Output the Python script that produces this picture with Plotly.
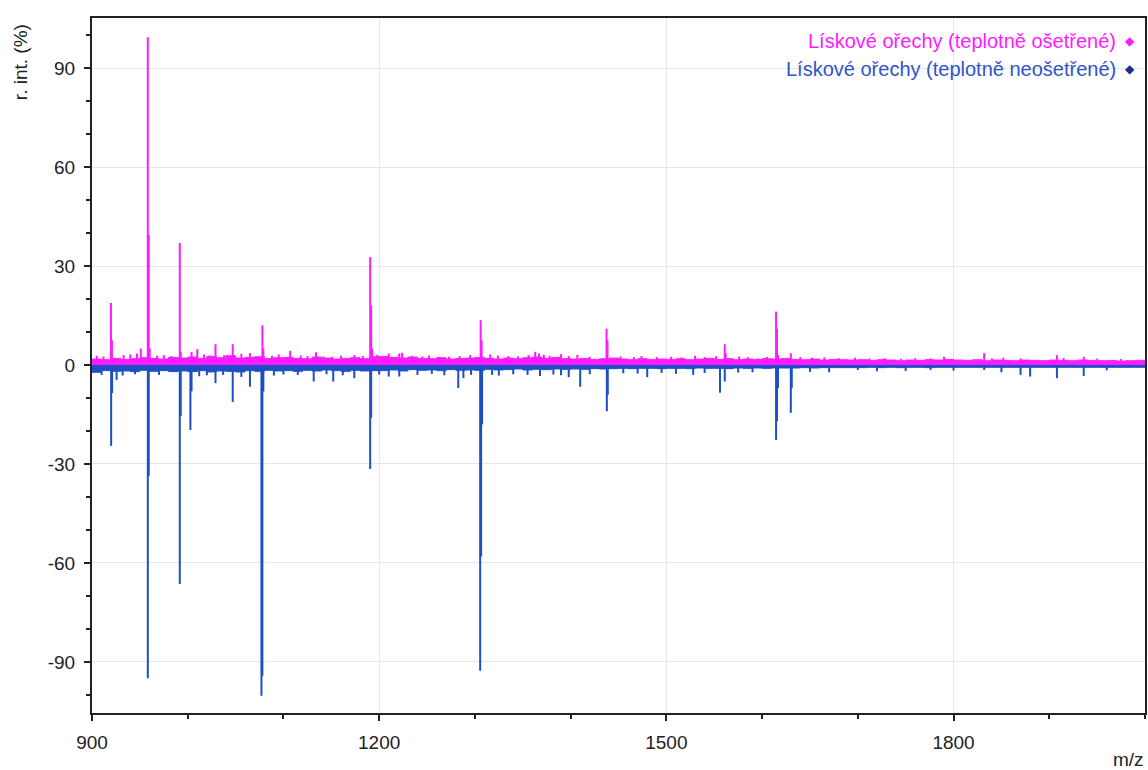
import plotly.graph_objects as go

# ---------------- data ----------------
SERIES_TREATED = "Lískové ořechy (teplotně ošetřené)"
SERIES_UNTREATED = "Lískové ořechy (teplotně neošetřené)"

X_TICKS = [900, 1200, 1500, 1800]
Y_TICKS = [-90, -60, -30, 0, 30, 60, 90]

# baseline noise level (m/z grid every 10)
NOISE_MZ = list(range(900, 2001, 10))
treated_noise = [
    1.8, 1.6, 2.0, 1.7, 1.9, 2.2, 2.0, 1.8, 2.3, 2.1,
    2.4, 2.0, 2.6, 2.2, 2.8, 2.1, 2.3, 2.5, 2.0, 2.2,
    2.3, 2.0, 1.9, 2.4, 2.1, 1.8, 2.0, 2.2, 1.9, 2.5,
    2.6, 2.3, 2.1, 2.4, 2.0, 1.9, 2.2, 1.8, 2.0, 2.1,
    2.3, 2.0, 1.8, 2.1, 1.9, 2.2, 2.4, 2.0, 2.3, 1.9,
    1.8, 2.0, 1.7, 1.9, 2.1, 1.8, 1.6, 1.9, 1.7, 1.8,
    1.7, 1.9, 1.6, 1.8, 2.0, 1.7, 1.9, 1.6, 1.8, 1.7,
    1.9, 1.8, 2.0, 1.7, 1.6, 1.8, 1.5, 1.7, 1.6, 1.5,
    1.6, 1.4, 1.6, 1.5, 1.3, 1.5, 1.4, 1.6, 1.5, 1.7,
    1.5, 1.4, 1.6, 1.3, 1.5, 1.4, 1.3, 1.5, 1.4, 1.3,
    1.5, 1.4, 1.3, 1.5, 1.4, 1.3, 1.4, 1.2, 1.3, 1.4, 1.3,
]
untreated_noise = [
    -2.2, -1.7, -1.9, -1.8, -2.0, -1.6, -1.9, -1.7, -2.0, -1.8,
    -2.0, -1.7, -2.1, -1.8, -1.9, -2.1, -1.7, -1.9, -1.6, -1.8,
    -1.7, -1.9, -1.6, -1.8, -1.5, -1.7, -1.9, -1.6, -1.8, -1.7,
    -1.7, -1.5, -1.8, -1.4, -1.6, -1.5, -1.7, -1.4, -1.6, -1.5,
    -1.6, -1.3, -1.5, -1.4, -1.2, -1.5, -1.3, -1.4, -1.2, -1.3,
    -1.2, -1.3, -1.1, -1.2, -1.1, -1.0, -1.1, -1.0, -1.0, -1.1,
    -1.0, -1.0, -1.1, -0.9, -1.0, -1.0, -1.1, -0.9, -1.0, -0.9,
    -1.0, -0.9, -0.9, -0.9, -0.8, -0.9, -0.8, -0.8, -0.8, -0.8,
    -0.8, -0.7, -0.8, -0.7, -0.8, -0.7, -0.7, -0.8, -0.7, -0.7,
    -0.7, -0.7, -0.7, -0.7, -0.7, -0.7, -0.7, -0.7, -0.7, -0.7,
    -0.7, -0.7, -0.7, -0.7, -0.7, -0.7, -0.7, -0.7, -0.7, -0.7, -0.7,
]

# peaks (m/z, relative intensity %)
treated_mz = [
    905, 912, 919.8, 920.8, 933, 940, 947, 951, 958.3, 959.3, 960.3, 968, 975, 983,
    991.7, 992.7, 1004, 1010, 1017, 1023, 1029, 1038, 1047, 1048, 1056, 1065, 1069,
    1078, 1079, 1088, 1095, 1107, 1118, 1125, 1134, 1142, 1151, 1160, 1174, 1183,
    1190.6, 1191.6, 1192.6, 1198, 1210, 1221, 1224, 1234, 1245, 1252, 1262, 1273,
    1284, 1295, 1306, 1307, 1316, 1324, 1335, 1345, 1356, 1363, 1367, 1372, 1378,
    1390, 1398, 1407, 1420, 1437.5, 1438.5, 1452, 1466, 1474, 1490, 1505, 1516,
    1530, 1540, 1546, 1552, 1561, 1562, 1576, 1585, 1596, 1605, 1614.6, 1615.6,
    1616.6, 1630, 1640, 1652, 1665, 1680, 1697, 1712, 1728, 1745, 1760, 1776, 1790,
    1832, 1840, 1852, 1870, 1908, 1915, 1936, 1950, 1975,
]
treated_int = [
    2.8, 2.6, 18.8, 7.5, 3.0, 3.2, 3.5, 5.0, 99.4, 39.4, 5.0, 2.8, 3.0, 2.7,
    37.0, 4.0, 4.0, 4.8, 3.2, 2.9, 6.3, 3.0, 6.3, 3.0, 3.4, 3.6, 2.5,
    12.0, 5.0, 2.8, 3.2, 4.3, 2.9, 2.7, 3.9, 2.6, 2.5, 2.8, 3.0, 2.7,
    32.7, 18.0, 5.0, 3.1, 3.5, 3.5, 3.7, 2.8, 2.6, 2.9, 2.5, 2.5,
    2.7, 3.0, 13.6, 7.5, 3.2, 2.9, 2.7, 2.6, 3.0, 4.0, 3.5, 3.1, 2.8,
    3.3, 2.7, 3.1, 2.5, 11.0, 7.5, 2.6, 2.4, 2.7, 2.4, 2.5, 2.3,
    2.8, 2.4, 2.0, 2.7, 6.3, 3.5, 2.6, 2.4, 2.0, 2.5, 16.2, 11.0,
    3.0, 3.6, 2.4, 2.2, 2.3, 2.1, 2.2, 2.0, 2.1, 1.9, 2.1, 2.0, 2.5,
    3.6, 2.0, 2.2, 2.0, 3.0, 2.1, 2.5, 1.9, 1.8,
]

untreated_mz = [
    910, 920, 921, 925.7, 932, 945, 958.3, 959.3, 970, 991.7, 992.7, 1002.8, 1004,
    1012, 1020, 1029, 1037, 1047, 1056, 1065, 1077, 1078, 1079, 1090, 1100, 1115,
    1131.6, 1145, 1152, 1162, 1174, 1190.6, 1191.6, 1200, 1210, 1221, 1240, 1255,
    1268, 1282.6, 1288, 1296, 1305.5, 1306.5, 1307.5, 1318, 1325, 1340, 1355, 1368,
    1382, 1390, 1398, 1410, 1420, 1437.8, 1438.8, 1455, 1470, 1480, 1495, 1510,
    1528, 1540, 1556, 1561, 1575, 1590, 1614.6, 1615.6, 1616.6, 1630, 1631, 1650,
    1670, 1700, 1720, 1750, 1776, 1800, 1832, 1850, 1870, 1880, 1908, 1936, 1960,
]
untreated_int = [
    -3.0, -24.5, -8.5, -4.5, -3.2, -2.8, -95.0, -33.6, -3.0, -66.4, -15.5, -19.7, -8.0,
    -3.4, -3.1, -5.5, -3.0, -11.2, -3.6, -6.6, -100.3, -94.2, -8.0, -3.2, -2.9, -3.0,
    -5.0, -2.8, -5.0, -3.1, -4.0, -31.5, -16.0, -2.9, -3.5, -3.5, -3.0, -2.7,
    -3.1, -7.0, -4.0, -3.0, -92.7, -58.0, -18.0, -3.0, -3.2, -2.8, -3.0, -3.3,
    -2.9, -3.1, -3.7, -6.6, -2.8, -14.0, -9.0, -2.5, -2.6, -3.7, -2.4, -2.7,
    -3.0, -2.4, -8.4, -5.0, -2.3, -2.2, -22.7, -17.0, -7.0, -14.5, -7.0, -2.1,
    -2.2, -1.5, -1.9, -1.8, -1.5, -1.7, -1.5, -2.2, -3.0, -3.5, -4.0, -3.3, -1.6,
]

MAGENTA = "#ff1aff"
BLUE = "#1c4fc4"
NAVY = "#1a2f8f"


def sticks(mz, inten):
    xs, ys = [], []
    for m, v in zip(mz, inten):
        xs += [m, m, None]
        ys += [0, v, None]
    return xs, ys


fig = go.Figure()

# untreated (negative, blue)
fig.add_trace(go.Scatter(x=NOISE_MZ, y=untreated_noise, mode="lines", line=dict(color=BLUE, width=1, shape="hv"),
                         fill="tozeroy", fillcolor=BLUE, showlegend=False, hoverinfo="skip"))
ux, uy = sticks(untreated_mz, untreated_int)
fig.add_trace(go.Scatter(x=ux, y=uy, mode="lines", line=dict(color=BLUE, width=2),
                         name=SERIES_UNTREATED, showlegend=False))

# treated (positive, magenta)
fig.add_trace(go.Scatter(x=NOISE_MZ, y=treated_noise, mode="lines", line=dict(color=MAGENTA, width=1, shape="hv"),
                         fill="tozeroy", fillcolor=MAGENTA, showlegend=False, hoverinfo="skip"))
tx, ty = sticks(treated_mz, treated_int)
fig.add_trace(go.Scatter(x=tx, y=ty, mode="lines", line=dict(color=MAGENTA, width=2),
                         name=SERIES_TREATED, showlegend=False))

FONT = "Liberation Sans, Arial, sans-serif"
W, H = 1148, 770
L, R, T, B = 92, 1, 18, 57
PW = W - L - R
PH = H - T - B


def px(xp):
    return (xp - L) / PW


def py(yp):
    return (H - B - yp) / PH


annotations = [
    dict(text=SERIES_TREATED, x=px(1120), y=py(41), xref="paper", yref="paper", xanchor="right", yanchor="middle",
         showarrow=False, font=dict(family=FONT, size=20, color=MAGENTA)),
    dict(text="◆", x=px(1132), y=py(41), xref="paper", yref="paper", xanchor="center", yanchor="middle",
         showarrow=False, font=dict(family="DejaVu Sans", size=12, color=MAGENTA)),
    dict(text=SERIES_UNTREATED, x=px(1120), y=py(69), xref="paper", yref="paper", xanchor="right", yanchor="middle",
         showarrow=False, font=dict(family=FONT, size=20, color="#2f55c8")),
    dict(text="◆", x=px(1132), y=py(69), xref="paper", yref="paper", xanchor="center", yanchor="middle",
         showarrow=False, font=dict(family="DejaVu Sans", size=12, color=NAVY)),
    dict(text="r. int. (%)", x=px(20), y=py(62), xref="paper", yref="paper", xanchor="center", yanchor="middle",
         textangle=-90, showarrow=False, font=dict(family=FONT, size=19, color="#222")),
    dict(text="m/z", x=px(1130), y=py(759), xref="paper", yref="paper", xanchor="center", yanchor="middle",
         showarrow=False, font=dict(family=FONT, size=19, color="#222")),
]

fig.update_layout(
    width=W, height=H,
    margin=dict(l=L, r=R, t=T, b=B),
    paper_bgcolor="white", plot_bgcolor="white",
    showlegend=False,
    font=dict(family=FONT, size=19, color="#222"),
    annotations=annotations,
)
fig.update_xaxes(
    range=[900, 2000], tickvals=X_TICKS, ticktext=[str(v) for v in X_TICKS],
    showgrid=True, gridcolor="#e6e6e6", gridwidth=1, zeroline=False,
    showline=True, linecolor="#222", linewidth=2, mirror=True,
    ticks="outside", ticklen=6, tickwidth=2, tickcolor="#222", ticklabelstandoff=5,
    minor=dict(dtick=100, tick0=900, ticks="outside", ticklen=4, tickcolor="#222", showgrid=False),
    tickfont=dict(family=FONT, size=19, color="#222"),
)
fig.update_yaxes(
    range=[-105.5, 105.2], tickvals=Y_TICKS, ticktext=[str(v) for v in Y_TICKS],
    showgrid=True, gridcolor="#e6e6e6", gridwidth=1, zeroline=False,
    showline=True, linecolor="#222", linewidth=2, mirror=True,
    ticks="outside", ticklen=6, tickwidth=2, tickcolor="#222", ticklabelstandoff=5,
    minor=dict(dtick=10, tick0=0, ticks="outside", ticklen=4, tickcolor="#222", showgrid=False),
    tickfont=dict(family=FONT, size=19, color="#222"),
)

# remove the default 8px page margin so the 1148x770 figure fills the window exactly
fig.write_html(
    "out.html",
    config={"displayModeBar": False},
    post_script="document.body.style.margin='0';document.body.style.overflow='hidden';",
)
